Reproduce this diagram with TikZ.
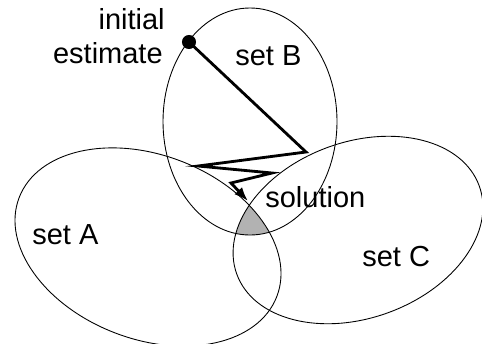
\documentclass[tikz,border=0pt]{standalone}
\usepackage{fontspec}
\setmainfont{Liberation Sans}
\usetikzlibrary{arrows.meta}
\tikzset{
	setline/.style={black,line width=0.5pt},
	pathline/.style={black,line width=1.6pt,line join=miter},
	lbl/.style={inner sep=0pt,font=\fontsize{16.5}{19}\selectfont}
}
\begin{document}
\begin{tikzpicture}[x=0.02cm,y=0.02cm]
	\useasboundingbox (0,0) rectangle (482,343);
	
	% shaded common part
	\begin{scope}
		\clip (250,221.5) ellipse [x radius=87,y radius=113.5];
		\clip[shift={(148,96)},rotate=-21] (0,0) ellipse [x radius=138,y radius=92];
		\fill[gray!60,shift={(358,113)},rotate=20] (0,0) ellipse [x radius=129,y radius=88];
	\end{scope}
	
	\draw[setline] (250,221.5) ellipse [x radius=87,y radius=113.5];
	\draw[setline,shift={(148,96)},rotate=-21] (0,0) ellipse [x radius=138,y radius=92];
	\draw[setline,shift={(358,113)},rotate=20] (0,0) ellipse [x radius=129,y radius=88];
	
	\node[lbl,anchor=base west] (setA) at (32,99) {set A};
	\node[lbl,anchor=base west] (setB) at (235,278) {set B};
	\node[lbl,anchor=base west] (setC) at (362,77) {set C};
	\node[lbl,anchor=base west] (sol) at (265,136) {solution};
	\node[lbl,anchor=base east] (ini) at (165,314) {initial};
	\node[lbl,anchor=base east] (est) at (163,280) {estimate};
	
	\node[circle,fill=black,inner sep=0pt,minimum size=8] (x0) at (189,301) {};
	\coordinate (x1) at (306,191);
	\coordinate (x2) at (198,177);
	\coordinate (x3) at (272,170);
	\coordinate (x4) at (231,160);
	\coordinate (x5) at (248,142);
	\draw[pathline,-{Latex[length=8pt,width=6pt]}] (x0.center) -- (x1) -- (x2) -- (x3) -- (x4) -- (x5);
\end{tikzpicture}
\end{document}
